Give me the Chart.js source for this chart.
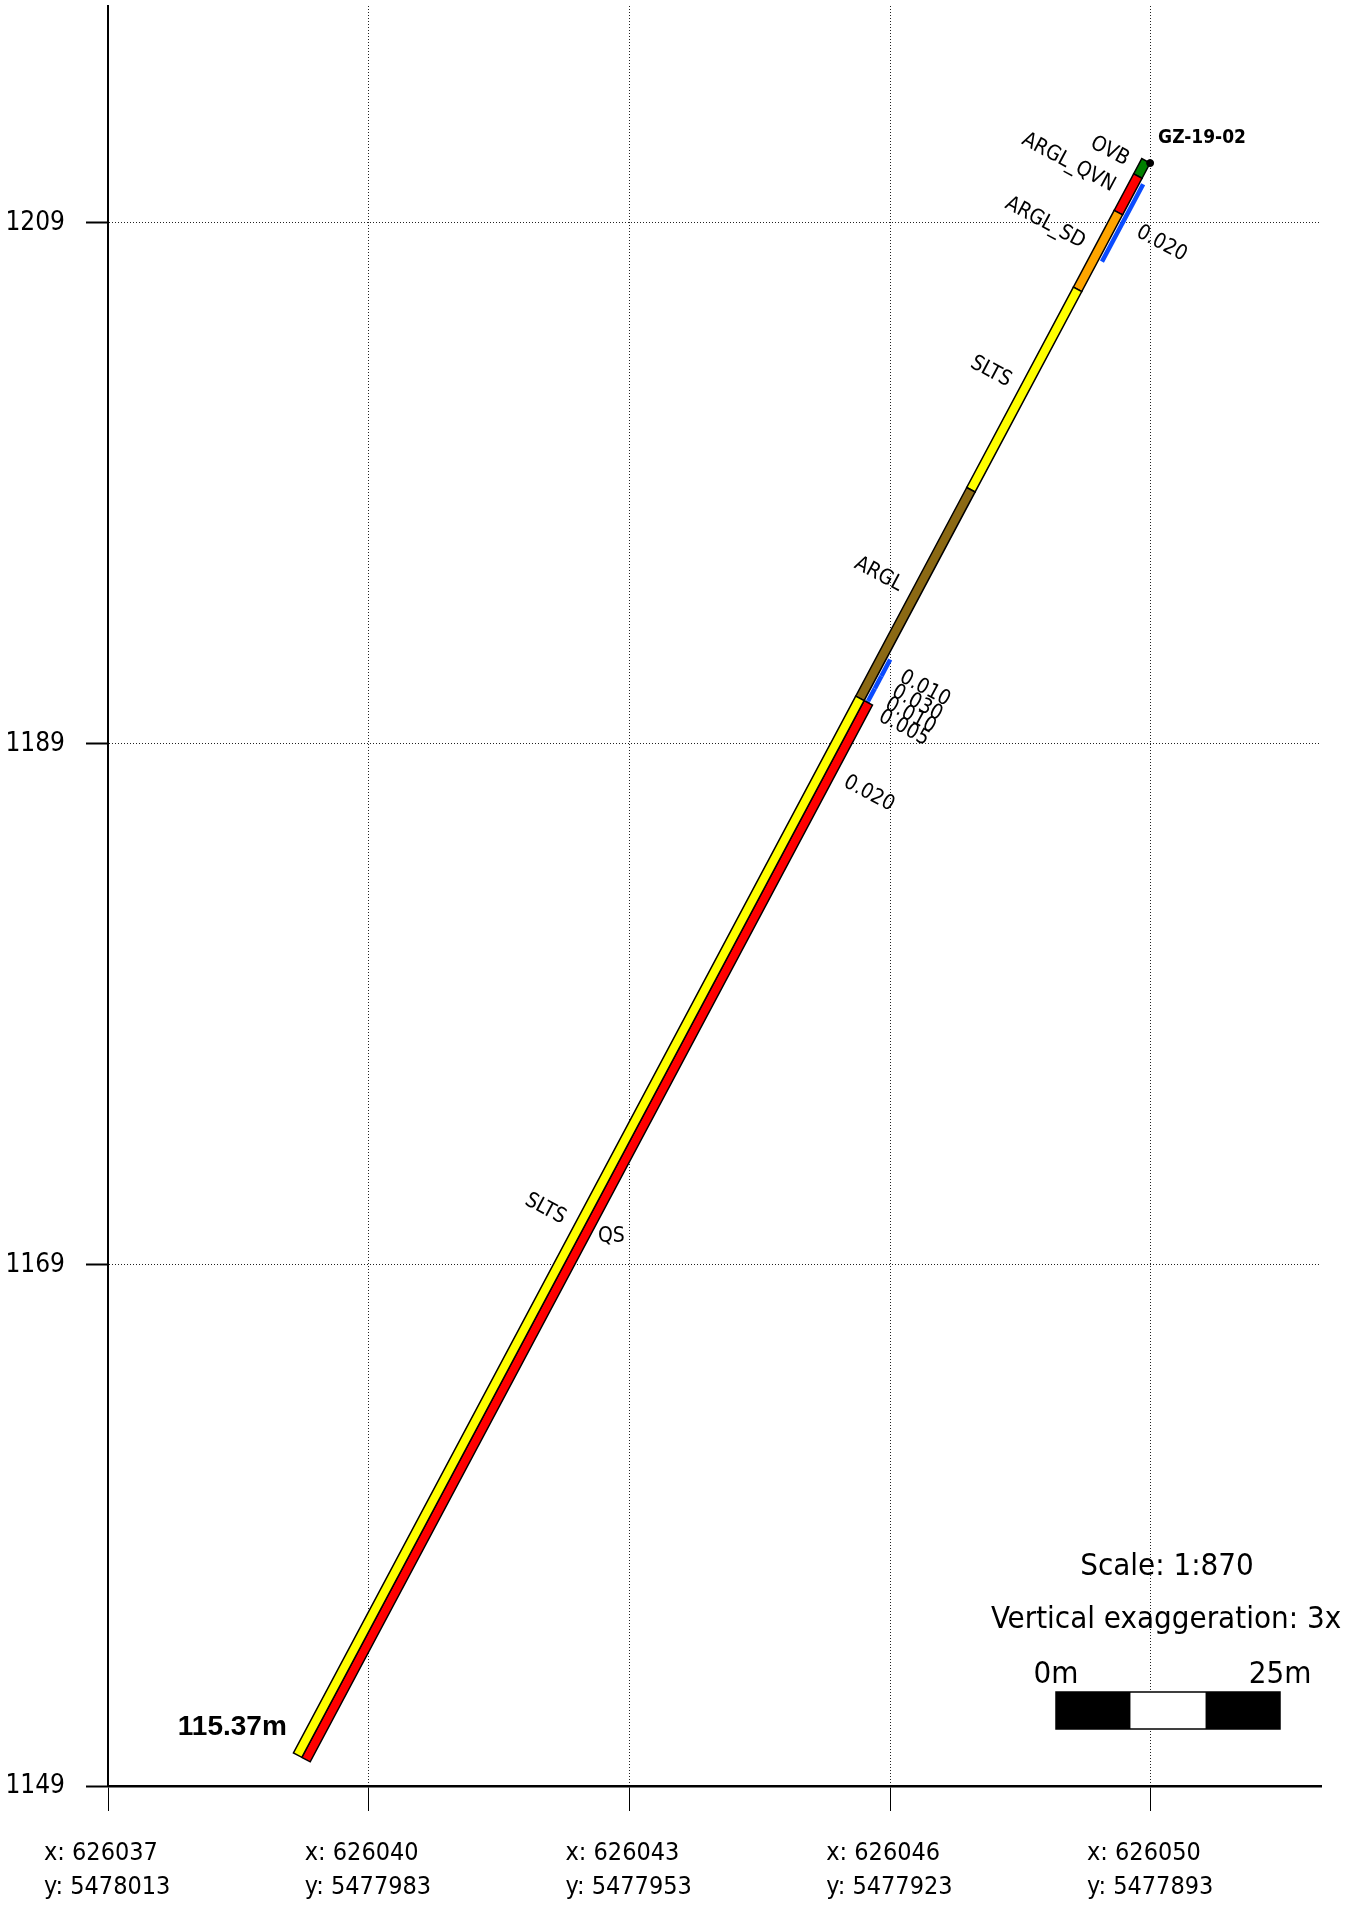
<!DOCTYPE html>
<html>
<head>
<meta charset="utf-8">
<script src="https://cdn.jsdelivr.net/npm/chart.js@4.4.1/dist/chart.umd.min.js"></script>
<style>
  html, body { margin: 0; padding: 0; background: #fff; }
  canvas { display: block; }
</style>
</head>
<body>
<canvas id="section" width="1348" height="1906"></canvas>
<script>
// drill hole
const holeId = 'GZ-19-02';
const holeLength = 115.37;
const collarPos = [119.9, 1211.3];   // distance along section, elevation
const endPos = [22.3, 1150.1];

// main lithology column
const lithFrom = [0, 1.1, 3.75, 9.3, 23.8, 38.9];
const lithTo   = [1.1, 3.75, 9.3, 23.8, 38.9, 115.37];
const lithCode = ['OVB', 'ARGL_QVN', 'ARGL_SD', 'SLTS', 'ARGL', 'SLTS'];

// second column
const lith2From = [38.9];
const lith2To   = [115.37];
const lith2Code = ['QS'];

// assays
const assayFrom = [1.4, 35.8, 37.0, 37.9, 38.8, 39.7];
const assayTo   = [7.0, 37.0, 37.9, 38.8, 39.7, 48.3];
const assayVal  = ['0.020', '0.010', '0.030', '0.010', '0.005', '0.020'];

// axes
const yTicks = [1149, 1169, 1189, 1209];
const xTicks = [0, 30, 60, 90, 120];
const xTickEast  = ['626037', '626040', '626043', '626046', '626050'];
const xTickNorth = ['5478013', '5477983', '5477953', '5477923', '5477893'];

const FONT = "'DejaVu Sans Condensed', 'DejaVu Sans', sans-serif";
const lithColors = {
  OVB: '#008000', ARGL_QVN: '#ff0000', ARGL_SD: '#ffa500',
  SLTS: '#ffff00', ARGL: '#8b6914', QS: '#ff0000'
};
const assayColor = '#0a4bff';

function alongHole(depth) {
  const f = depth / holeLength;
  return [collarPos[0] + (endPos[0] - collarPos[0]) * f,
          collarPos[1] + (endPos[1] - collarPos[1]) * f];
}

const holePlugin = {
  id: 'hole',
  beforeDatasetsDraw(chart) {
    const { ctx, scales: { x, y } } = chart;
    const px = d => {
      const p = alongHole(d);
      return [x.getPixelForValue(p[0]), y.getPixelForValue(p[1])];
    };
    const a = px(0), b = px(holeLength);
    const len = Math.hypot(b[0] - a[0], b[1] - a[1]);
    const n = [(b[1] - a[1]) / len, -(b[0] - a[0]) / len];
    const ang = Math.atan2(n[1], n[0]);

    const strip = (d0, d1, o0, o1, fill, stroke) => {
      const p0 = px(d0), p1 = px(d1);
      ctx.beginPath();
      ctx.moveTo(p0[0] + n[0] * o0, p0[1] + n[1] * o0);
      ctx.lineTo(p1[0] + n[0] * o0, p1[1] + n[1] * o0);
      ctx.lineTo(p1[0] + n[0] * o1, p1[1] + n[1] * o1);
      ctx.lineTo(p0[0] + n[0] * o1, p0[1] + n[1] * o1);
      ctx.closePath();
      ctx.fillStyle = fill;
      ctx.fill();
      if (stroke) {
        ctx.lineWidth = 1.5;
        ctx.strokeStyle = '#000';
        ctx.stroke();
      }
    };
    const label = (text, d, off, align, rotate) => {
      const p = px(d);
      ctx.save();
      ctx.translate(p[0] + n[0] * off, p[1] + n[1] * off);
      if (rotate) ctx.rotate(ang);
      ctx.textAlign = align;
      ctx.textBaseline = 'middle';
      ctx.fillStyle = '#000';
      ctx.fillText(text, 0, 0);
      ctx.restore();
    };

    ctx.save();
    // assay bars
    assayFrom.forEach((f, i) => strip(f, assayTo[i], 1.5, 6, assayColor, false));
    // second column
    lith2From.forEach((f, i) => strip(f, lith2To[i], 0, 9.5, lithColors[lith2Code[i]], true));
    // main column
    lithFrom.forEach((f, i) => strip(f, lithTo[i], -9.5, 0, lithColors[lithCode[i]], true));

    ctx.font = '21px ' + FONT;
    lithFrom.forEach((f, i) => label(lithCode[i], (f + lithTo[i]) / 2, -21, 'right', true));
    assayFrom.forEach((f, i) => label(assayVal[i], (f + assayTo[i]) / 2, 21, 'left', true));
    lith2From.forEach((f, i) => label(lith2Code[i], (f + lith2To[i]) / 2, 17, 'left', false));

    // hole id and depth
    ctx.fillStyle = '#000';
    ctx.textBaseline = 'alphabetic';
    ctx.textAlign = 'left';
    ctx.font = 'bold 19px ' + FONT;
    ctx.fillText(holeId, a[0] + 8, a[1] - 20);
    ctx.textAlign = 'right';
    ctx.font = "bold 28px 'Liberation Sans', Arial, sans-serif";
    ctx.fillText(holeLength.toFixed(2) + 'm', b[0] - 15, b[1] - 22);
    ctx.restore();
  },
  afterDraw(chart) {
    const { ctx } = chart;
    ctx.save();
    ctx.fillStyle = '#000';
    ctx.textAlign = 'center';
    ctx.textBaseline = 'alphabetic';
    ctx.font = '31px ' + FONT;
    ctx.fillText('Scale: 1:870', 1167, 1575);
    ctx.fillText('Vertical exaggeration: 3x', 1166, 1628);
    ctx.fillText('0m', 1056, 1683);
    ctx.fillText('25m', 1280, 1683);
    // scale bar
    const x0 = 1056, w = 224, y0 = 1692, h = 37;
    ctx.fillStyle = '#000';
    ctx.fillRect(x0, y0, w / 3, h);
    ctx.fillRect(x0 + 2 * w / 3, y0, w / 3, h);
    ctx.fillStyle = '#fff';
    ctx.fillRect(x0 + w / 3, y0, w / 3, h);
    ctx.lineWidth = 1.5;
    ctx.strokeStyle = '#000';
    ctx.strokeRect(x0, y0, w, h);
    ctx.restore();
  }
};

new Chart(document.getElementById('section'), {
  type: 'scatter',
  data: {
    datasets: [{
      label: holeId,
      data: [{ x: collarPos[0], y: collarPos[1] }],
      pointRadius: 3.5,
      backgroundColor: '#000',
      borderColor: '#000'
    }]
  },
  options: {
    responsive: false,
    animation: false,
    devicePixelRatio: 1,
    layout: { padding: { top: 6, right: 27, bottom: 0, left: 0 } },
    plugins: { legend: { display: false }, tooltip: { enabled: false } },
    scales: {
      x: {
        type: 'linear',
        min: 0,
        max: 139.56,
        afterBuildTicks: axis => { axis.ticks = xTicks.map(v => ({ value: v })); },
        afterFit: axis => {
          axis.height = 120;
          axis.paddingLeft = 0;
          axis.paddingRight = 0;
        },
        grid: {
          color: '#222', lineWidth: 1,
          tickLength: 25, tickWidth: 1, tickColor: '#000'
        },
        border: { display: true, color: '#000', width: 2.5, dash: [1, 2] },
        ticks: {
          autoSkip: false, maxRotation: 0, minRotation: 0,
          align: 'start', labelOffset: -64, padding: 25,
          color: '#000',
          font: { family: FONT, size: 25, lineHeight: 1.36 },
          callback: (v, i) => ['x: ' + xTickEast[i], 'y: ' + xTickNorth[i]]
        }
      },
      y: {
        type: 'linear',
        min: 1149,
        max: 1217.33,
        afterBuildTicks: axis => { axis.ticks = yTicks.map(v => ({ value: v })); },
        afterFit: axis => {
          axis.width = 108;
          axis.paddingTop = 0;
          axis.paddingBottom = 0;
        },
        grid: {
          color: '#222', lineWidth: 1,
          tickLength: 22, tickWidth: 2, tickColor: '#000'
        },
        border: { display: true, color: '#000', width: 2, dash: [1, 2] },
        ticks: {
          padding: 21,
          color: '#000',
          font: { family: FONT, size: 26 },
          callback: v => String(v)
        }
      }
    }
  },
  plugins: [holePlugin]
});
</script>
</body>
</html>
